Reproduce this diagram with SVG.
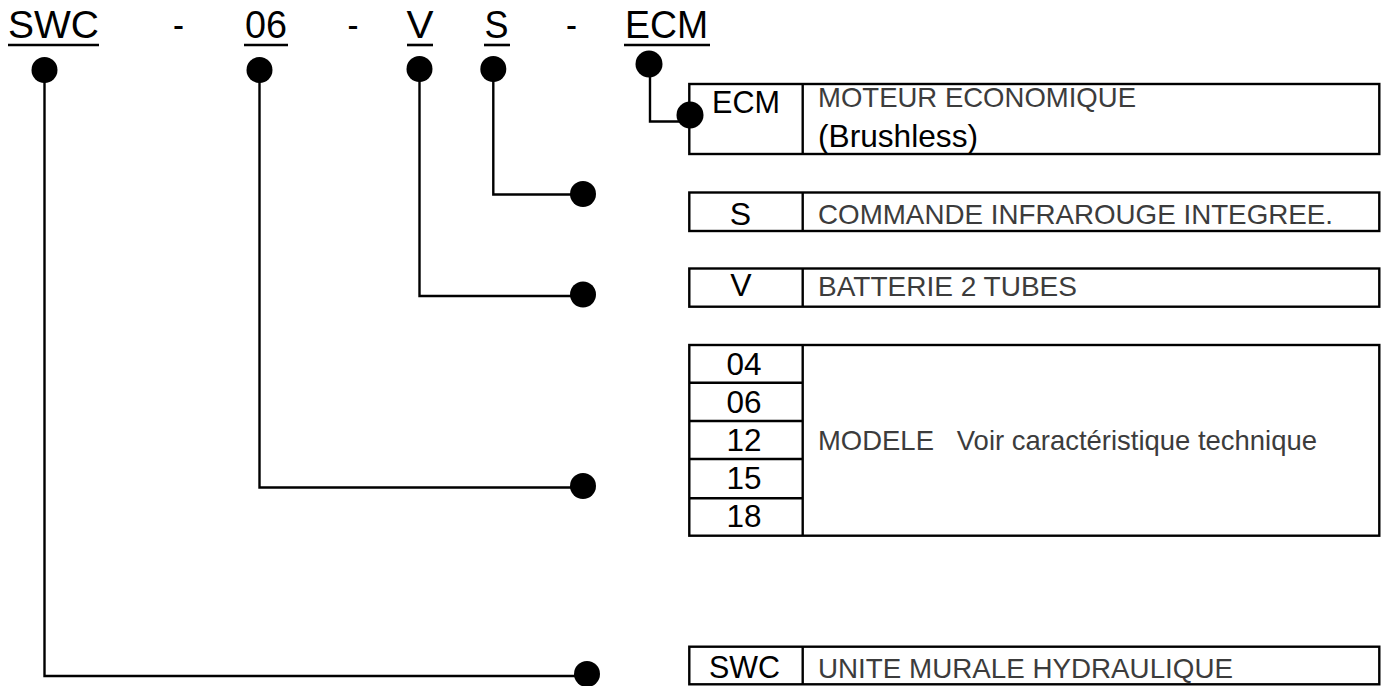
<svg xmlns="http://www.w3.org/2000/svg" width="1386" height="686" viewBox="0 0 1386 686">
<style>
.code{font-family:"Liberation Sans",Arial,sans-serif;font-size:39px;fill:#000}
.bc{font-family:"Liberation Sans",Arial,sans-serif;font-size:32px;fill:#000;text-anchor:middle}
.desc{font-family:"Liberation Sans",Arial,sans-serif;font-size:28px;fill:#3c3c3c;white-space:pre}
.box{fill:#fff;stroke:#000;stroke-width:2.4}
.ln{fill:none;stroke:#000;stroke-width:2.4}
.ul{stroke:#000;stroke-width:2.6}
.dot{fill:#000}
</style>
<rect width="1386" height="686" fill="#fff"/>
<g id="title">
<text class="code" x="8" y="38" textLength="91" lengthAdjust="spacingAndGlyphs">SWC</text>
<text class="code" x="173" y="38" textLength="11" lengthAdjust="spacingAndGlyphs">-</text>
<text class="code" x="245" y="38" textLength="42" lengthAdjust="spacingAndGlyphs">06</text>
<text class="code" x="347.5" y="38" textLength="11" lengthAdjust="spacingAndGlyphs">-</text>
<text class="code" x="406.5" y="38" textLength="27" lengthAdjust="spacingAndGlyphs">V</text>
<text class="code" x="484.5" y="38" textLength="24" lengthAdjust="spacingAndGlyphs">S</text>
<text class="code" x="566" y="38" textLength="11" lengthAdjust="spacingAndGlyphs">-</text>
<text class="code" x="625" y="38" textLength="83" lengthAdjust="spacingAndGlyphs">ECM</text>
<line class="ul" x1="8" y1="45" x2="99" y2="45"/>
<line class="ul" x1="244" y1="45" x2="288" y2="45"/>
<line class="ul" x1="407" y1="45" x2="433" y2="45"/>
<line class="ul" x1="484" y1="45" x2="510" y2="45"/>
<line class="ul" x1="624" y1="45" x2="710" y2="45"/>
</g>
<g id="connectors">
<polyline class="ln" points="44.5,70 44.5,676 586,676"/>
<polyline class="ln" points="259.5,70 259.5,487.5 583,487.5"/>
<polyline class="ln" points="419.5,69 419.5,296 583,296"/>
<polyline class="ln" points="493.3,69 493.3,194.5 583,194.5"/>
<polyline class="ln" points="650,64 650,121.5 688,121.5"/>
<circle class="dot" cx="44.5" cy="70" r="13"/>
<circle class="dot" cx="259.5" cy="70" r="13"/>
<circle class="dot" cx="419.5" cy="69" r="13"/>
<circle class="dot" cx="493.3" cy="69" r="13"/>
<circle class="dot" cx="649" cy="64" r="13.5"/>
<circle class="dot" cx="587" cy="674" r="13"/>
<circle class="dot" cx="583" cy="486" r="13"/>
<circle class="dot" cx="583" cy="294.5" r="13"/>
<circle class="dot" cx="583" cy="194" r="13"/>
</g>
<g id="box-ecm">
<rect class="box" x="689.3" y="84" width="690" height="70"/>
<line class="ln" x1="802.7" y1="84" x2="802.7" y2="154"/>
<text class="bc" x="746" y="113" textLength="68" lengthAdjust="spacingAndGlyphs">ECM</text>
<text class="desc" x="818" y="107" textLength="318" lengthAdjust="spacingAndGlyphs">MOTEUR ECONOMIQUE</text>
<text class="bc" x="818" y="146.5" style="text-anchor:start" textLength="160" lengthAdjust="spacingAndGlyphs">(Brushless)</text>
</g>
<circle class="dot" cx="690" cy="115" r="13.5"/>
<g id="box-s">
<rect class="box" x="689.3" y="192.5" width="690" height="38.5"/>
<line class="ln" x1="802.7" y1="192.5" x2="802.7" y2="231"/>
<text class="bc" x="740.5" y="224.5">S</text>
<text class="desc" x="818" y="223.5" textLength="515" lengthAdjust="spacingAndGlyphs">COMMANDE INFRAROUGE INTEGREE.</text>
</g>
<g id="box-v">
<rect class="box" x="689.3" y="268.5" width="690" height="38.2"/>
<line class="ln" x1="802.7" y1="268.5" x2="802.7" y2="306.7"/>
<text class="bc" x="741" y="296">V</text>
<text class="desc" x="818" y="295.5" textLength="259" lengthAdjust="spacingAndGlyphs">BATTERIE 2 TUBES</text>
</g>
<g id="box-modele">
<rect class="box" x="689.3" y="345" width="690" height="190.7"/>
<line class="ln" x1="802.7" y1="345" x2="802.7" y2="535.7"/>
<line class="ln" x1="689.3" y1="382.7" x2="802.7" y2="382.7"/>
<line class="ln" x1="689.3" y1="421" x2="802.7" y2="421"/>
<line class="ln" x1="689.3" y1="459" x2="802.7" y2="459"/>
<line class="ln" x1="689.3" y1="498.3" x2="802.7" y2="498.3"/>
<text class="bc" x="744" y="374.5" textLength="35" lengthAdjust="spacingAndGlyphs">04</text>
<text class="bc" x="744" y="412.5" textLength="35" lengthAdjust="spacingAndGlyphs">06</text>
<text class="bc" x="744" y="450.5" textLength="35" lengthAdjust="spacingAndGlyphs">12</text>
<text class="bc" x="744" y="488.5" textLength="35" lengthAdjust="spacingAndGlyphs">15</text>
<text class="bc" x="744" y="526.5" textLength="35" lengthAdjust="spacingAndGlyphs">18</text>
<text class="desc" x="818" y="450" textLength="499" lengthAdjust="spacingAndGlyphs">MODELE   Voir caractéristique technique</text>
</g>
<g id="box-swc">
<rect class="box" x="689.3" y="646.7" width="690" height="37.6"/>
<line class="ln" x1="802.7" y1="646.7" x2="802.7" y2="684.3"/>
<text class="bc" x="744.5" y="678" textLength="71" lengthAdjust="spacingAndGlyphs">SWC</text>
<text class="desc" x="818" y="677.5" textLength="415" lengthAdjust="spacingAndGlyphs">UNITE MURALE HYDRAULIQUE</text>
</g>
</svg>
